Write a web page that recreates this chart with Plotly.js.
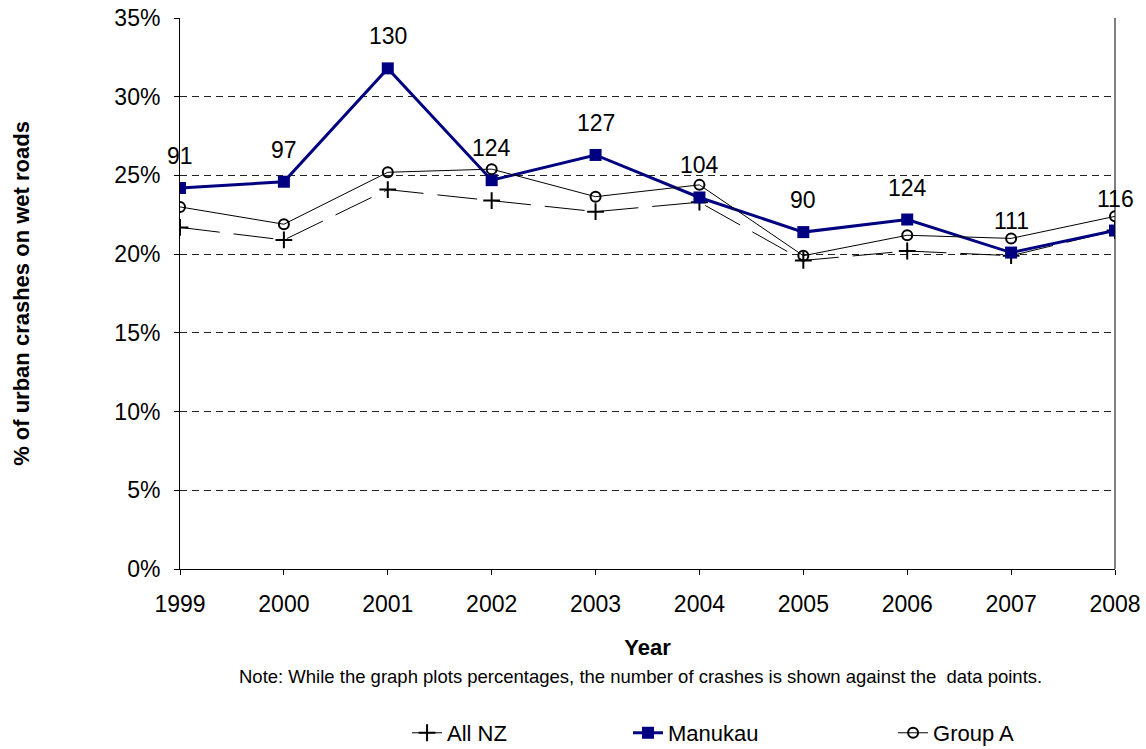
<!DOCTYPE html>
<html>
<head>
<meta charset="utf-8">
<script src="https://cdn.plot.ly/plotly-3.0.1.min.js"></script>
<style>html,body{margin:0;padding:0;background:#fff;}#chart{width:1146px;height:749px;}</style>
</head>
<body>
<div id="chart"></div>
<script>
const years = [1999, 2000, 2001, 2002, 2003, 2004, 2005, 2006, 2007, 2008];
const allNZ = [0.217, 0.209, 0.241, 0.234, 0.227, 0.233, 0.196, 0.202, 0.199, 0.215];
const manukau = [0.242, 0.246, 0.318, 0.247, 0.263, 0.236, 0.214, 0.222, 0.201, 0.215];
const groupA = [0.230, 0.219, 0.252, 0.254, 0.2365, 0.244, 0.199, 0.212, 0.210, 0.224];
const crashCounts = [91, 97, 130, 124, 127, 104, 90, 124, 111, 116];
const yTickVals = [0, 0.05, 0.10, 0.15, 0.20, 0.25, 0.30, 0.35];
const yTickText = ['0%', '5%', '10%', '15%', '20%', '25%', '30%', '35%'];

const font = 'Liberation Sans, Arial, sans-serif';

const traces = [
  {
    x: years, y: allNZ, name: 'All NZ', type: 'scatter', mode: 'lines+markers', legend: 'legend',
    line: {color: '#000000', width: 1, dash: '40px,14px'},
    marker: {symbol: 'cross-thin', size: 12, line: {color: '#000000', width: 2}, color: '#000000'}
  },
  {
    x: years, y: manukau, name: 'Manukau', type: 'scatter', mode: 'lines+markers', legend: 'legend2',
    line: {color: '#000080', width: 3},
    marker: {symbol: 'square', size: 12, color: '#000080', line: {width: 0}}
  },
  {
    x: years, y: groupA, name: 'Group A', type: 'scatter', mode: 'lines+markers', legend: 'legend3',
    line: {color: '#000000', width: 1},
    marker: {symbol: 'circle-open', size: 10, line: {color: '#404040', width: 2}}
  }
];

const annotations = years.map((yr, i) => ({
  x: yr, y: manukau[i], xref: 'x', yref: 'y',
  text: String(crashCounts[i]), showarrow: false,
  yanchor: 'bottom', yshift: 17,
  font: {family: font, size: 23, color: '#000'}
}));
annotations.push({
  xref: 'paper', yref: 'paper', x: 0.492, y: -0.196,
  text: 'Note: While the graph plots percentages, the number of crashes is shown against the  data points.',
  showarrow: false, xanchor: 'center', yanchor: 'middle',
  font: {family: font, size: 18.5, color: '#000'}
});

function legendBox(x) {
  return {
    orientation: 'h', xref: 'container', yref: 'container',
    x: x, xanchor: 'left', y: 0.0214, yanchor: 'middle',
    bgcolor: 'rgba(0,0,0,0)', borderwidth: 0,
    font: {family: font, size: 22, color: '#000'}
  };
}

const layout = {
  width: 1146, height: 749,
  margin: {l: 180, r: 31, t: 18, b: 180, autoexpand: false},
  paper_bgcolor: '#fff', plot_bgcolor: '#fff',
  font: {family: font, size: 23, color: '#000'},
  showlegend: true,
  legend: legendBox(0.3552),
  legend2: legendBox(0.5480),
  legend3: legendBox(0.7793),
  xaxis: {
    range: [1999, 2008], tickvals: years, ticktext: years.map(String),
    showgrid: false, zeroline: false, automargin: false,
    showline: true, linecolor: '#000', linewidth: 1,
    ticks: 'outside', ticklen: 5, tickcolor: '#000',
    ticklabelstandoff: 9,
    tickfont: {family: font, size: 23},
    title: {text: '<b>Year</b>', font: {family: font, size: 22}, standoff: 24}
  },
  yaxis: {
    range: [0, 0.35], tickvals: yTickVals, ticktext: yTickText,
    showgrid: true, gridcolor: '#222', griddash: '7px,5px', gridwidth: 1,
    zeroline: false, automargin: false,
    showline: true, linecolor: '#000', linewidth: 1,
    ticks: 'outside', ticklen: 5, tickcolor: '#000',
    ticklabelstandoff: 9,
    tickfont: {family: font, size: 23},
    title: {text: '<b>% of urban crashes on wet roads</b>', font: {family: font, size: 22}, standoff: 78}
  },
  shapes: [
    {type: 'line', xref: 'paper', yref: 'paper', x0: 1, x1: 1, y0: 0, y1: 1, line: {color: '#000', width: 1}}
  ],
  annotations: annotations
};

Plotly.newPlot('chart', traces, layout, {displayModeBar: false, staticPlot: true});
</script>
</body>
</html>
